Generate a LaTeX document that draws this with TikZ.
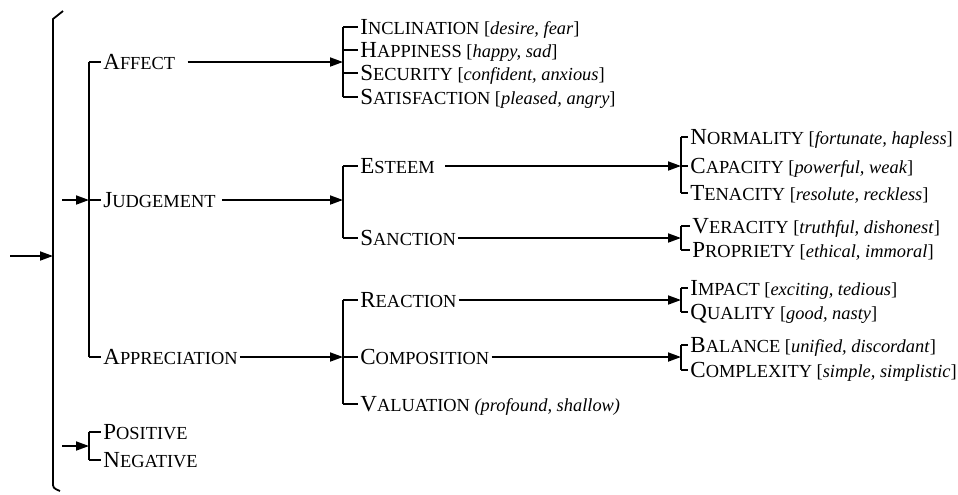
\documentclass[tikz,border=0pt]{standalone}
\usepackage{fontspec}
\setmainfont{Liberation Serif}
\usetikzlibrary{arrows.meta}
\newcommand{\sck}[2]{{\fontsize{11.5}{12}\selectfont #1}{\fontsize{9.2}{10}\selectfont #2}}
\newcommand{\gls}[1]{{\fontsize{9.2}{10}\selectfont\ [\textit{#1}]}}
\begin{document}
\begin{tikzpicture}[x=0.5pt,y=-0.5pt,
    lbl/.style={anchor=west,inner sep=1pt,text height=7.6pt,text depth=0pt},
    tie/.style={line width=0.9pt},
    arr/.style={line width=0.9pt,-{Triangle[length=6.5pt,width=4.5pt]}}]
        \useasboundingbox (0,0) rectangle (958,494);
        %% Outer bracket
        \coordinate (in) at (10,256);
        \coordinate (root) at (53,256);
        \draw[tie] (63,11) -- (53,19) -- (53,482) .. controls (53,488) .. (60,491);
        \draw[arr] (in) -- (root);
        %% Attitude type
        \coordinate (sA) at (62,200);
        \coordinate (tA) at (89,200);
        \node[lbl] (affect) at (101,62) {\sck{A}{FFECT}};
        \node[lbl] (judge) at (101,200) {\sck{J}{UDGEMENT}};
        \node[lbl] (apprec) at (101,357) {\sck{A}{PPRECIATION}};
        \draw[arr] (sA) -- (tA);
        \draw[tie] (affect.west -| tA) -- (apprec.west -| tA);
        \foreach \n in {affect,judge,apprec}
            \draw[tie] (\n.west -| tA) -- (\n.west);
        %% Polarity
        \coordinate (sP) at (62,446);
        \coordinate (tP) at (89,446);
        \node[lbl] (pos) at (101,432) {\sck{P}{OSITIVE}};
        \node[lbl] (neg) at (101,460) {\sck{N}{EGATIVE}};
        \draw[arr] (sP) -- (tP);
        \draw[tie] (pos.west -| tP) -- (neg.west -| tP);
        \foreach \n in {pos,neg}
            \draw[tie] (\n.west -| tP) -- (\n.west);
        %% Affect
        \coordinate (tAf) at (343,62);
        \node[lbl] (incl) at (358,27) {\sck{I}{NCLINATION}\gls{desire, fear}};
        \node[lbl] (happ) at (358,50) {\sck{H}{APPINESS}\gls{happy, sad}};
        \node[lbl] (secu) at (358,73) {\sck{S}{ECURITY}\gls{confident, anxious}};
        \node[lbl] (satis) at (358,97) {\sck{S}{ATISFACTION}\gls{pleased, angry}};
        \draw[arr,shorten <=5pt] (affect.east) -- (tAf);
        \draw[tie] (incl.west -| tAf) -- (satis.west -| tAf);
        \foreach \n in {incl,happ,secu,satis}
            \draw[tie] (\n.west -| tAf) -- (\n.west);
        %% Judgement
        \coordinate (tJu) at (343,200);
        \node[lbl] (esteem) at (358,166) {\sck{E}{STEEM}};
        \node[lbl] (sanct) at (358,238) {\sck{S}{ANCTION}};
        \draw[arr,shorten <=2pt] (judge.east) -- (tJu);
        \draw[tie] (esteem.west -| tJu) -- (sanct.west -| tJu);
        \foreach \n in {esteem,sanct}
            \draw[tie] (\n.west -| tJu) -- (\n.west);
        %% Esteem
        \coordinate (tEs) at (681,166);
        \node[lbl] (norm) at (688,137) {\sck{N}{ORMALITY}\gls{fortunate, hapless}};
        \node[lbl] (capa) at (688,166) {\sck{C}{APACITY}\gls{powerful, weak}};
        \node[lbl] (tena) at (688,193) {\sck{T}{ENACITY}\gls{resolute, reckless}};
        \draw[arr,shorten <=4pt] (esteem.east) -- (tEs);
        \draw[tie] (norm.west -| tEs) -- (tena.west -| tEs);
        \foreach \n in {norm,capa,tena}
            \draw[tie] (\n.west -| tEs) -- (\n.west);
        %% Sanction
        \coordinate (tSa) at (681,238);
        \node[lbl] (vera) at (690,226) {\sck{V}{ERACITY}\gls{truthful, dishonest}};
        \node[lbl] (prop) at (690,250) {\sck{P}{ROPRIETY}\gls{ethical, immoral}};
        \draw[arr] (sanct.east) -- (tSa);
        \draw[tie] (vera.west -| tSa) -- (prop.west -| tSa);
        \foreach \n in {vera,prop}
            \draw[tie] (\n.west -| tSa) -- (\n.west);
        %% Appreciation
        \coordinate (tAp) at (343,357);
        \node[lbl] (react) at (358,300) {\sck{R}{EACTION}};
        \node[lbl] (compo) at (358,357) {\sck{C}{OMPOSITION}};
        \node[lbl] (valu) at (358,404) {\sck{V}{ALUATION}%
            {\fontsize{9.2}{10}\selectfont\ \textit{(profound, shallow)}}};
        \draw[arr] (apprec.east) -- (tAp);
        \draw[tie] (react.west -| tAp) -- (valu.west -| tAp);
        \foreach \n in {react,compo,valu}
            \draw[tie] (\n.west -| tAp) -- (\n.west);
        %% Reaction
        \coordinate (tRe) at (681,300);
        \node[lbl] (impa) at (688,288) {\sck{I}{MPACT}\gls{exciting, tedious}};
        \node[lbl] (qual) at (688,312) {\sck{Q}{UALITY}\gls{good, nasty}};
        \draw[arr] (react.east) -- (tRe);
        \draw[tie] (impa.west -| tRe) -- (qual.west -| tRe);
        \foreach \n in {impa,qual}
            \draw[tie] (\n.west -| tRe) -- (\n.west);
        %% Composition
        \coordinate (tCo) at (681,357);
        \node[lbl] (bala) at (688,345) {\sck{B}{ALANCE}\gls{unified, discordant}};
        \node[lbl] (comp) at (688,370) {\sck{C}{OMPLEXITY}\gls{simple, simplistic}};
        \draw[arr] (compo.east) -- (tCo);
        \draw[tie] (bala.west -| tCo) -- (comp.west -| tCo);
        \foreach \n in {bala,comp}
            \draw[tie] (\n.west -| tCo) -- (\n.west);
\end{tikzpicture}
\end{document}
